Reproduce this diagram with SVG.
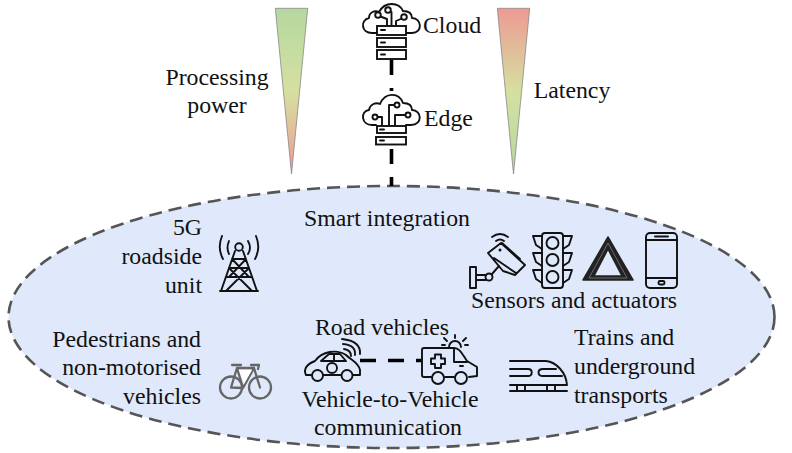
<svg xmlns="http://www.w3.org/2000/svg" width="792" height="453" viewBox="0 0 792 453">
<style>
text{font-family:"Liberation Serif","Times New Roman",serif;font-size:23.800px;fill:#111}
.m{text-anchor:middle}.e{text-anchor:end}
.i{fill:none;stroke:#111;stroke-width:1.900;stroke-linecap:round;stroke-linejoin:round}
.w{fill:#fff;stroke:#111;stroke-width:1.900}
.link{stroke:#000;fill:none;stroke-width:3.600}
</style>
<defs>
<linearGradient id="g1" x1="0" y1="0" x2="0" y2="1"><stop offset="0" stop-color="#b5d8a0"/><stop offset=".5" stop-color="#d5e0a0"/><stop offset="1" stop-color="#ee9a94"/></linearGradient>
<linearGradient id="g2" x1="0" y1="0" x2="0" y2="1"><stop offset="0" stop-color="#ee9a94"/><stop offset=".5" stop-color="#d5e0a0"/><stop offset="1" stop-color="#b5d8a0"/></linearGradient>
</defs>
<g id="region"><ellipse cx="391.500" cy="317" rx="383" ry="131" fill="#e0e9fb" stroke="#555" stroke-width="2.600" stroke-dasharray="13 7"/></g>
<g id="connectors">
<path class="link" d="M391.500 60V75M391.500 88V91M391.500 149V164M391.500 177V186"/>
<path class="link" d="M360 360.500H376M388 360.500H404M416 360.500H422"/>
</g>
<g id="processing-power"><path d="M275.300 8.300H307.700L291.500 174Z" fill="url(#g1)" stroke="#888" stroke-width=".8"/><text x="217" y="85" class="m">Processing</text><text x="217" y="113" class="m">power</text></g>
<g id="latency"><path d="M497.300 8.300H529.700L513.500 174Z" fill="url(#g2)" stroke="#888" stroke-width=".8"/><text x="572" y="98" class="m">Latency</text></g>
<g id="cloud">
<path class="i" d="M377 33H372C361 33 360 20 369 18C369 12 375 10 379 12C385 1 399 2 403 11C409 11 412 14 412 18C422 18 423 33 412 33H406"/>
<path class="i" d="M387 26V19L379 16M391.500 26V12M396 26V21L403 18"/>
<circle class="w" cx="378" cy="15" r="2.800"/><circle class="w" cx="388" cy="10" r="2.800"/><circle class="w" cx="404" cy="17" r="2.800"/>
<rect class="w" x="377" y="26" width="29" height="9"/><rect class="w" x="377" y="38" width="29" height="9"/><rect class="w" x="377" y="50" width="29" height="9"/>
<path class="i" d="M381 30H385M381 42.500H385M381 54.500H385"/>
<text x="423" y="33">Cloud</text>
</g>
<g id="edge">
<path class="i" d="M376 125H372C361 125 360 111 369 110C370 104 376 102 380 104C385 92 399 92 403 103C409 103 412 106 412 110C422 110 423 125 411 125H406"/>
<path class="i" d="M377 117H382V126M389 126V105H394M395 126V115H405"/>
<circle class="w" cx="375" cy="117" r="2.500"/><circle class="w" cx="397" cy="105" r="2.500"/><circle class="w" cx="408" cy="115" r="2.500"/>
<rect class="w" x="377" y="126" width="29" height="7"/><rect class="w" x="376" y="137" width="30" height="7.500"/>
<path class="i" d="M380 129.500H384M380 140.500H384"/>
<text x="424" y="126">Edge</text>
</g>
<g id="smart-integration"><text x="387" y="226" class="m">Smart integration</text></g>
<g id="roadside-unit">
<text x="202" y="235" class="e">5G</text><text x="202" y="264" class="e">roadside</text><text x="202" y="293" class="e">unit</text>
<path class="i" d="M220 291H258M235 251L221 291M243 251L257 291M232 259H246M229 268H249M226 277H252M232 259L249 277M246 259L229 277M229 268L252 291M249 268L226 291"/>
<circle class="i" cx="239" cy="247" r="3.800"/>
<path class="i" stroke-width="2.200" d="M229 241Q226 248 229 254M222 236Q217 248 223 259M248 241Q252 248 248 254M256 236Q261 248 255 259"/>
</g>
<g id="sensors">
<path class="i" d="M470 267H476V288H470ZM476 275H486M476 280H486M492 274L499 266"/>
<circle class="i" cx="489" cy="277" r="3.500"/>
<path class="i" d="M488 253L501 243L525 265L515 275L503 271Z M494 258L516 273M502 243L520 259"/>
<path class="i" d="M492 237Q500 231 508 237M496 241Q500 238 504 241"/>
<circle cx="500" cy="250" r="1.500" fill="#111"/>
<rect class="i" x="542" y="233" width="21" height="55" rx="3"/>
<circle class="i" cx="552.500" cy="243" r="6"/><circle class="i" cx="552.500" cy="260" r="6"/><circle class="i" cx="552.500" cy="277" r="6"/>
<path class="i" d="M542 236H533L536 245L542 249M542 253H533L536 262L542 266M542 270H533L536 279L542 283M563 236H572L569 245L563 249M563 253H572L569 262L563 266M563 270H572L569 279L563 283"/>
<path d="M608 237L633 280H583Z M608 249L594 276H622Z" fill="#222" fill-rule="evenodd" stroke="#222" stroke-width="1.500" stroke-linejoin="round"/>
<path d="M608 243L627 278H589Z" fill="none" stroke="#9a9ea6" stroke-width=".6"/>
<rect class="i" x="646" y="233" width="31" height="55" rx="4"/>
<path class="i" d="M646 240H677M646 278H677M655 236.500H668"/><rect class="i" x="658.500" y="281" width="6" height="3.500" rx="1.500"/>
<text x="574" y="308" class="m">Sensors and actuators</text>
</g>
<g id="pedestrians">
<text x="201" y="347" class="e">Pedestrians and</text><text x="201" y="375" class="e">non-motorised</text><text x="201" y="404" class="e">vehicles</text>
<g fill="none" stroke="#666" stroke-width="2.300" stroke-linejoin="round" stroke-linecap="round">
<circle cx="231" cy="387.500" r="11"/><circle cx="260" cy="387.500" r="11"/>
<path d="M231 387.500L237 368H254L243 388ZM237 368L243 388M254 368L260 387.500M251 365H259L258 369M232 365H241"/>
</g>
<path d="M239 370H252L244 384Z" fill="#fff"/>
</g>
<g id="road-vehicles">
<text x="382" y="335" class="m">Road vehicles</text>
<path class="i" stroke-width="2.200" d="M311 375H306C303 369 307 364 315 361C322 351 337 349 346 355C351 360 359 363 360 370V375H353M341 375H323"/>
<path class="i" d="M321 361L329 354H340L346 361ZM334 354V361"/>
<circle class="i" cx="317.500" cy="375.500" r="5.500" stroke-width="2.200"/><circle class="i" cx="347" cy="375.500" r="5.500" stroke-width="2.200"/>
<circle class="i" cx="332" cy="368" r="5"/>
<path class="i" d="M344 349Q351 350 351 356M343 344Q356 345 355 355M342 339Q361 341 360 354"/>
<path class="i" stroke-width="2.200" d="M432 377H424C423 377 422 376 422 375V350C422 349 423 348 424 348H454C460 348 462 354 467 361L477 367V376L469 377M454 377H445M454 348V362H467M460 366H463"/>
<circle class="i" cx="438" cy="378" r="6" stroke-width="2.200"/><circle class="i" cx="461" cy="378" r="6" stroke-width="2.200"/>
<path class="i" d="M435 354.500H441V358.500H445V364H441V368H435V364H431V358.500H435Z"/>
<path class="i" d="M449 347A6 6 0 0 1 461 347M455 335V338M444 338L447 341M466 338L463 341M442 345H445M465 345H468"/>
<text x="390" y="407" class="m">Vehicle-to-Vehicle</text><text x="388" y="435" class="m">communication</text>
</g>
<g id="trains">
<path class="i" stroke-width="2.200" d="M510 361H546C556 362 566 372 567 385H510M510 369H528C533 369 533 376 528 376H510M562 376H543C537 376 537 369 543 369H556M510 391H567"/>
<path class="i" stroke-width="2" d="M517 386V391M525 386V391M547 386V391M555 386V391"/>
<text x="574" y="345">Trains and</text><text x="574" y="374">underground</text><text x="574" y="403">transports</text>
</g>
</svg>
